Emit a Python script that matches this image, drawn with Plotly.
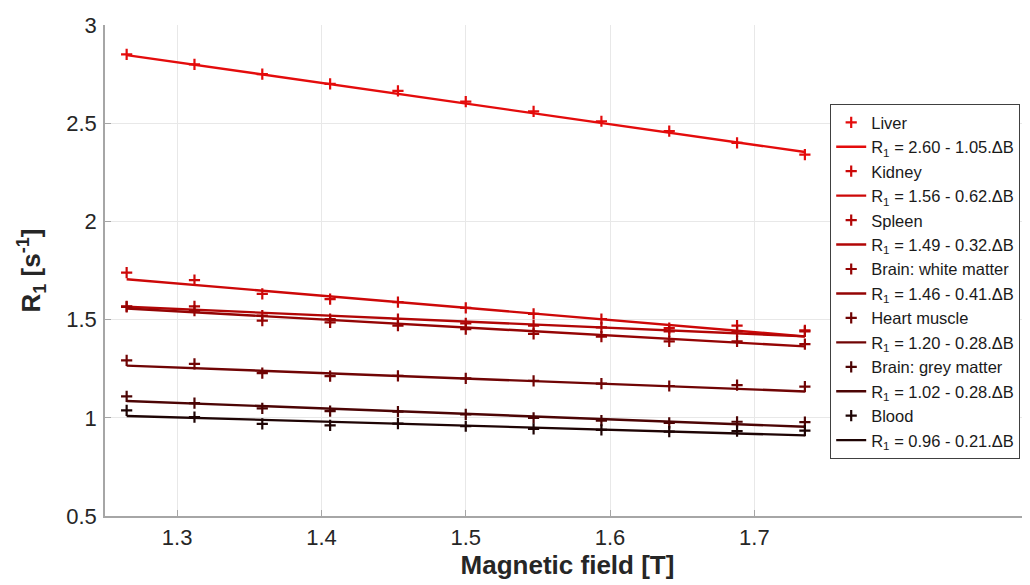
import plotly.graph_objects as go

# ---- data ----
field_T = [1.265, 1.312, 1.359, 1.406, 1.453, 1.500, 1.547, 1.594, 1.641, 1.688, 1.735]
B_ref = 1.5

tissues = ["Liver", "Kidney", "Spleen", "Brain: white matter",
           "Heart muscle", "Brain: grey matter", "Blood"]

liver = [2.850, 2.800, 2.750, 2.700, 2.665, 2.610, 2.560, 2.510, 2.460, 2.400, 2.340]
kidney = [1.739, 1.701, 1.631, 1.604, 1.589, 1.560, 1.529, 1.503, 1.457, 1.469, 1.445]
spleen = [1.568, 1.567, 1.520, 1.503, 1.503, 1.481, 1.469, 1.460, 1.440, 1.440, 1.440]
white_matter = [1.565, 1.545, 1.495, 1.486, 1.469, 1.452, 1.427, 1.413, 1.389, 1.389, 1.375]
heart = [1.292, 1.275, 1.227, 1.212, 1.213, 1.201, 1.188, 1.174, 1.162, 1.166, 1.159]
grey_matter = [1.109, 1.075, 1.048, 1.034, 1.031, 1.017, 1.000, 0.986, 0.974, 0.980, 0.978]
blood = [1.038, 1.003, 0.969, 0.961, 0.970, 0.957, 0.944, 0.939, 0.930, 0.932, 0.935]

series = [liver, kidney, spleen, white_matter, heart, grey_matter, blood]

intercepts = [2.60, 1.56, 1.49, 1.46, 1.20, 1.02, 0.96]
slopes = [1.05, 0.62, 0.32, 0.41, 0.28, 0.28, 0.21]

x_ticks = [1.3, 1.4, 1.5, 1.6, 1.7]
y_ticks = [0.5, 1, 1.5, 2, 2.5, 3]

colors = ["rgb(228,12,12)", "rgb(205,8,8)", "rgb(178,6,6)", "rgb(148,4,4)",
          "rgb(112,4,4)", "rgb(76,4,4)", "rgb(30,4,4)"]

fig = go.Figure()
x_fit = [field_T[0], field_T[-1]]
for name, vals, a, b, c in zip(tissues, series, intercepts, slopes, colors):
    fig.add_trace(go.Scatter(
        x=field_T, y=vals, mode="markers", name=name,
        marker=dict(symbol="cross-thin", size=8, color=c,
                    line=dict(color=c, width=2.2)),
    ))
    y_fit = [a - b * (xx - B_ref) for xx in x_fit]
    fig.add_trace(go.Scatter(
        x=x_fit, y=y_fit, mode="lines",
        name=f"R<sub>1</sub> = {a:.2f} - {b:.2f}.ΔB",
        line=dict(color=c, width=2.4),
    ))

FONT = "Liberation Sans, Arial, sans-serif"
axis_font = dict(family=FONT, size=22, color="#262626")

fig.update_layout(
    template="none",
    width=1022, height=577,
    margin=dict(l=97, r=0, t=17, b=69, autoexpand=False),
    paper_bgcolor="white", plot_bgcolor="white",
    font=dict(family=FONT, color="#262626"),
    showlegend=True,
    legend=dict(
        x=0.784, y=0.839, xanchor="left", yanchor="top",
        bgcolor="white", bordercolor="#404040", borderwidth=1,
        font=dict(family=FONT, size=16.5, color="#1a1a1a"),
        tracegroupgap=0, itemwidth=30,
    ),
    xaxis=dict(
        automargin=False,
        range=[1.25, 1.891], tickvals=x_ticks, ticktext=[f"{v:.1f}" for v in x_ticks],
        showgrid=True, gridcolor="#e8e8e8", gridwidth=1,
        showline=True, linecolor="#a6a6a6", linewidth=1.5,
        ticks="inside", ticklen=6, tickcolor="#a6a6a6",
        tickfont=axis_font, zeroline=False, ticklabelstandoff=1,
        title=dict(text="<b>Magnetic field [T]</b>",
                   font=dict(family=FONT, size=26, color="#262626"), standoff=4),
    ),
    yaxis=dict(
        automargin=False,
        range=[0.5, 3.0], tickvals=y_ticks, ticktext=["0.5", "1", "1.5", "2", "2.5", "3"],
        showgrid=True, gridcolor="#e8e8e8", gridwidth=1,
        showline=True, linecolor="#a6a6a6", linewidth=1.5,
        ticks="inside", ticklen=6, tickcolor="#a6a6a6",
        tickfont=axis_font, zeroline=False, ticklabelstandoff=2,
        title=dict(text="<b>R<sub>1</sub> [s<sup>-1</sup>]</b>",
                   font=dict(family=FONT, size=26, color="#262626"), standoff=18),
    ),
)

fig.write_html("out.html")
